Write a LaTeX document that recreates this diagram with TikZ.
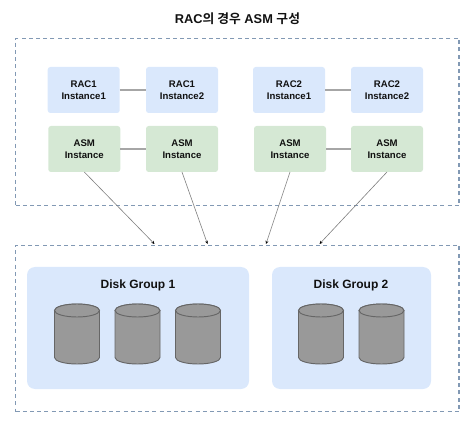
\documentclass[tikz,border=0pt]{standalone}
\usepackage{fontspec}
\setmainfont{Liberation Sans}
\newfontfamily\cjk{Noto Sans CJK KR}[BoldFont={Noto Sans CJK KR Bold}]
\usetikzlibrary{arrows.meta}
\definecolor{bluefill}{HTML}{DAE8FC}
\definecolor{greenfill}{HTML}{D5E8D4}
\definecolor{dashcol}{HTML}{8299B4}
\definecolor{linkcol}{HTML}{A6A6A6}
\definecolor{arrowcol}{HTML}{7F7F7F}
\definecolor{diskfill}{HTML}{999999}
\definecolor{diskline}{HTML}{666666}
\definecolor{textcol}{HTML}{111111}
\tikzset{
  x=0.75pt,y=-0.75pt,
  every node/.style={inner sep=0pt,outer sep=0pt,text=textcol},
  frame/.style={draw=dashcol,line width=0.8pt,dash pattern=on 3pt off 2.4pt,rectangle,minimum width=332.5pt,minimum height=125.5pt},
  inst/.style={rectangle,rounded corners=2pt,minimum width=54pt,minimum height=34.5pt,align=center,font=\fontsize{7.2}{8.7}\selectfont\bfseries},
  racbox/.style={inst,fill=bluefill},
  asmbox/.style={inst,fill=greenfill},
  group/.style={rectangle,rounded corners=6pt,fill=bluefill,minimum height=91.5pt},
  grouptitle/.style={font=\fontsize{9}{11}\selectfont\bfseries},
  diskline/.style={draw=diskline,line width=0.7pt,fill=diskfill},
  disk/.pic={
    \path[diskline] (-22.5,-23.5) -- (-22.5,23.5) arc[start angle=180,end angle=0,x radius=22.5,y radius=6.5] -- (22.5,-23.5) arc[start angle=0,end angle=-180,x radius=22.5,y radius=6.5] -- cycle;
    \path[diskline] (0,-23.5) ellipse[x radius=22.5,y radius=6.5];
  },
  link/.style={draw=linkcol,line width=1pt},
  feed/.style={draw=arrowcol,line width=0.45pt,-{Stealth[length=2.4pt,width=2.2pt,black]}},
}
\begin{document}
\begin{tikzpicture}
\useasboundingbox (0,0) rectangle (474,427);
\node[font=\fontsize{9.6}{11}\selectfont\bfseries] (title) at (237.5,18.5) {RAC{\cjk\bfseries 의 경우} ASM {\cjk\bfseries 구성}};
\node[frame] (top) at (237.3,122) {};
\node[frame,minimum height=125pt] (bottom) at (237.3,328.5) {};

\node[racbox] (r1a) at (83.7,90) {RAC1\\Instance1};
\node[racbox] (r1b) at (182,90) {RAC1\\Instance2};
\node[racbox] (r2a) at (289,90) {RAC2\\Instance1};
\node[racbox] (r2b) at (387,90) {RAC2\\Instance2};
\node[asmbox] (a1a) at (84.3,149) {ASM\\Instance};
\node[asmbox] (a1b) at (182,149) {ASM\\Instance};
\node[asmbox] (a2a) at (290,149) {ASM\\Instance};
\node[asmbox] (a2b) at (387,149) {ASM\\Instance};

\draw[link] (r1a) -- (r1b);
\draw[link] (r2a) -- (r2b);
\draw[link] (a1a) -- (a1b);
\draw[link] (a2a) -- (a2b);

\coordinate (t1) at (154.5,244);
\coordinate (t2) at (207.5,244);
\coordinate (t3) at (266,244);
\coordinate (t4) at (319.5,244);
\draw[feed] (a1a.south) -- (t1);
\draw[feed] (a1b.south) -- (t2);
\draw[feed] (a2a.south) -- (t3);
\draw[feed] (a2b.south) -- (t4);

\node[group,minimum width=166.5pt] (g1) at (138,328) {};
\node[group,minimum width=119.25pt] (g2) at (351.5,328) {};
\node[grouptitle] (g1t) at (138,285) {Disk Group 1};
\node[grouptitle] (g2t) at (351,285) {Disk Group 2};
\pic (d1) at (77,334) {disk};
\pic (d2) at (137.5,334) {disk};
\pic (d3) at (198,334) {disk};
\pic (d4) at (321,334) {disk};
\pic (d5) at (381.5,334) {disk};
\end{tikzpicture}
\end{document}
